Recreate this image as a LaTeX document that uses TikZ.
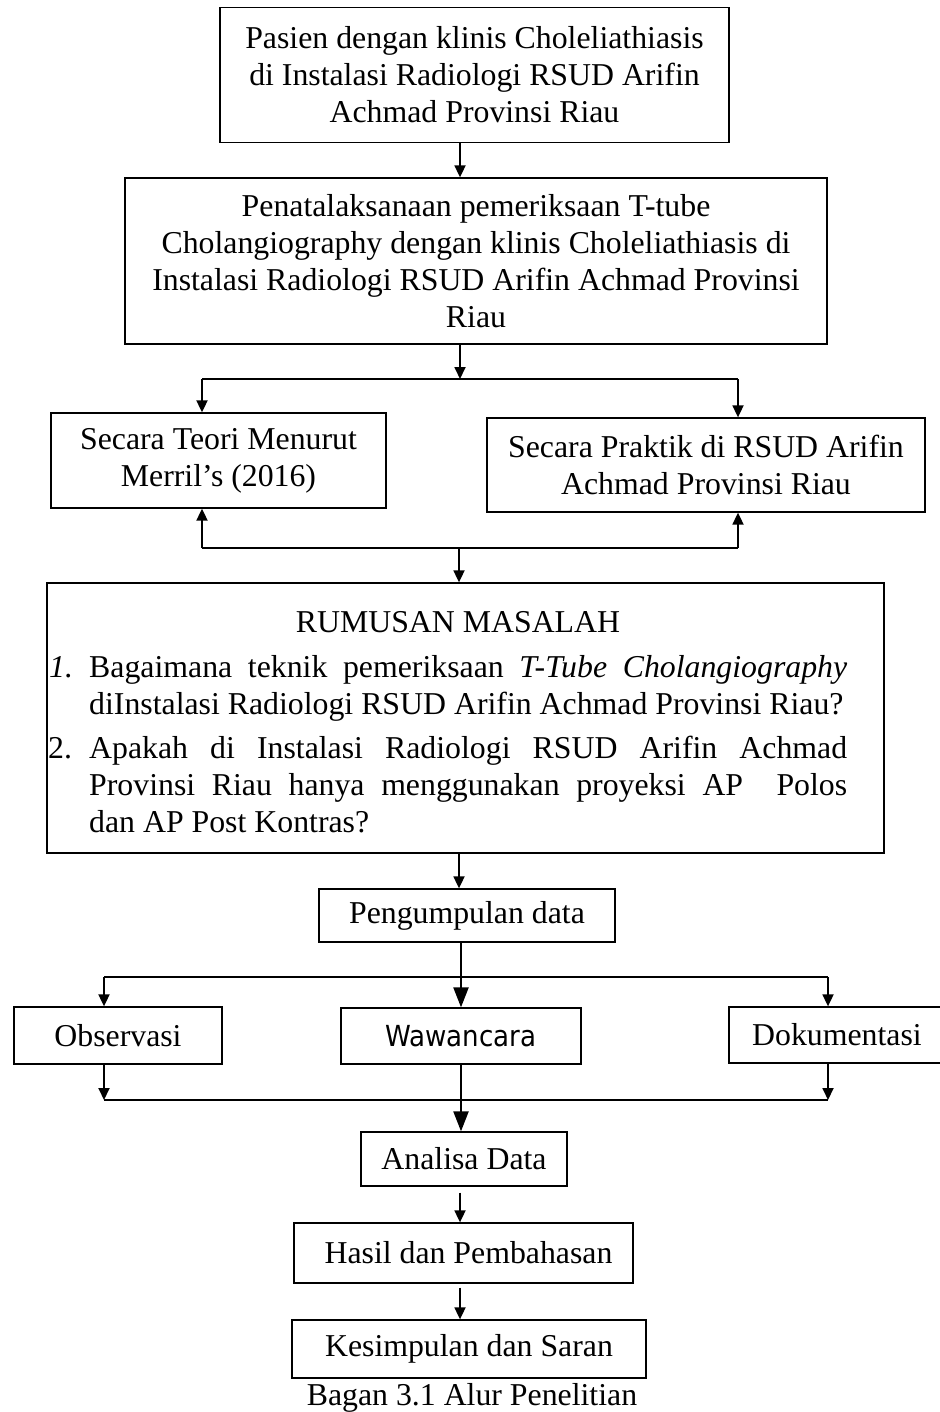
\documentclass[tikz,border=0pt]{standalone}
\usepackage{fontspec}
\setmainfont{Liberation Serif}
\newfontfamily\wawfont{DejaVu Sans}[FakeStretch=0.9]
\usetikzlibrary{arrows.meta}
\begin{document}
\begin{tikzpicture}[x=1pt,y=-1pt,
  box/.style={draw, line width=1.3pt, inner sep=0pt, align=center, font=\fontsize{31.8pt}{37pt}\selectfont},
  txt/.style={inner sep=0pt, font=\fontsize{31.8pt}{37pt}\selectfont},
  conn/.style={line width=2.2pt},
  arr/.style={line width=1.8pt, -{Triangle[length=12pt,width=11pt]}},
  bigarr/.style={line width=2.2pt, -{Triangle[length=20pt,width=15pt]}}]
\fill[white] (0,0) rectangle (939,1412);
\useasboundingbox (0,0) rectangle (939,1412);

\node[box, minimum width=509pt, minimum height=135pt] (b1) at (474.5,75) {Pasien dengan klinis Choleliathiasis\\ di Instalasi Radiologi RSUD Arifin\\ Achmad Provinsi Riau};
\node[box, minimum width=702pt, minimum height=166pt] (b2) at (476,261) {Penatalaksanaan pemeriksaan T-tube\\ Cholangiography dengan klinis Choleliathiasis di\\ Instalasi Radiologi RSUD Arifin Achmad Provinsi\\ Riau};
\node[box, minimum width=335pt, minimum height=95pt] (teori) at (218.5,460.5) {Secara Teori Menurut\\ Merril’s (2016)};
\node[box, minimum width=438pt, minimum height=94pt] (praktik) at (706,465) {Secara Praktik di RSUD Arifin\\ Achmad Provinsi Riau};

\node[box, minimum width=837pt, minimum height=270pt] (rum) at (465.5,718) {};
\node[txt, anchor=base] (rumt) at (458,632) {RUMUSAN MASALAH};
\node[txt, anchor=base west] (n1) at (49,677) {\textit{1.}};
\node[txt, anchor=base west] (i1) at (89,677) {\parbox[t]{758pt}{Bagaimana teknik pemeriksaan \textit{T-Tube Cholangiography}\linebreak diInstalasi Radiologi RSUD Arifin Achmad Provinsi Riau?}};
\node[txt, anchor=base west] (n2) at (48,758) {2.};
\node[txt, anchor=base west] (i2) at (89,758) {\parbox[t]{758pt}{Apakah di Instalasi Radiologi RSUD Arifin Achmad\linebreak Provinsi Riau hanya menggunakan proyeksi AP\ \ Polos\linebreak dan AP Post Kontras?}};

\node[box, minimum width=296pt, minimum height=53pt] (peng) at (467,915.5) {Pengumpulan data};
\node[box, minimum width=208pt, minimum height=57pt] (obs) at (118,1035.5) {Observasi};
\node[box, minimum width=240pt, minimum height=56pt, font=\wawfont\fontsize{29pt}{31pt}\selectfont] (waw) at (461,1036) {Wawancara};
\node[box, minimum width=216pt, minimum height=56pt] (dok) at (837,1035) {Dokumentasi};
\node[box, minimum width=206pt, minimum height=54pt] (ana) at (464,1159) {Analisa Data};
\node[box, minimum width=339pt, minimum height=60pt] (has) at (463.5,1253) {\hspace*{10pt}Hasil dan Pembahasan};
\node[box, minimum width=354pt, minimum height=58pt] (kes) at (469,1349) {Kesimpulan dan Saran};
\node[txt, anchor=base] (cap) at (472,1405) {Bagan 3.1 Alur Penelitian};

\coordinate (ax) at (460,0);
\draw[arr] (b1.south -| ax) -- (b2.north -| ax);
\coordinate (s1l) at (202,379);
\coordinate (s1r) at (738,379);
\coordinate (s1m) at (460,379);
\draw[conn] (s1l) -- (s1r);
\draw[arr] (b2.south -| s1m) -- (s1m);
\draw[arr] (s1l) -- (teori.north -| s1l);
\draw[arr] (s1r) -- (praktik.north -| s1r);
\coordinate (s2l) at (202,548);
\coordinate (s2r) at (738,548);
\coordinate (s2m) at (459,548);
\draw[conn] (s2l) -- (s2r);
\draw[arr] (s2l) -- (teori.south -| s2l);
\draw[arr] (s2r) -- (praktik.south -| s2r);
\draw[arr] (s2m) -- (rum.north -| s2m);
\draw[arr] (rum.south -| s2m) -- (peng.north -| s2m);
\coordinate (s3l) at (104,977);
\coordinate (s3r) at (828,977);
\draw[conn] (s3l) -- (s3r);
\draw[bigarr] (peng.south -| waw) -- (waw.north);
\draw[arr] (s3l) -- (obs.north -| s3l);
\draw[arr] (s3r) -- (dok.north -| s3r);
\coordinate (s4l) at (104,1100);
\coordinate (s4r) at (828,1100);
\draw[conn] (s4l) -- (s4r);
\draw[arr] (obs.south -| s4l) -- (s4l);
\draw[arr] (dok.south -| s4r) -- (s4r);
\draw[bigarr] (waw.south) -- (ana.north -| waw);
\draw[arr, shorten <=6pt] (ana.south -| ax) -- (has.north -| ax);
\draw[arr, shorten <=4pt] (has.south -| ax) -- (kes.north -| ax);
\end{tikzpicture}
\end{document}
